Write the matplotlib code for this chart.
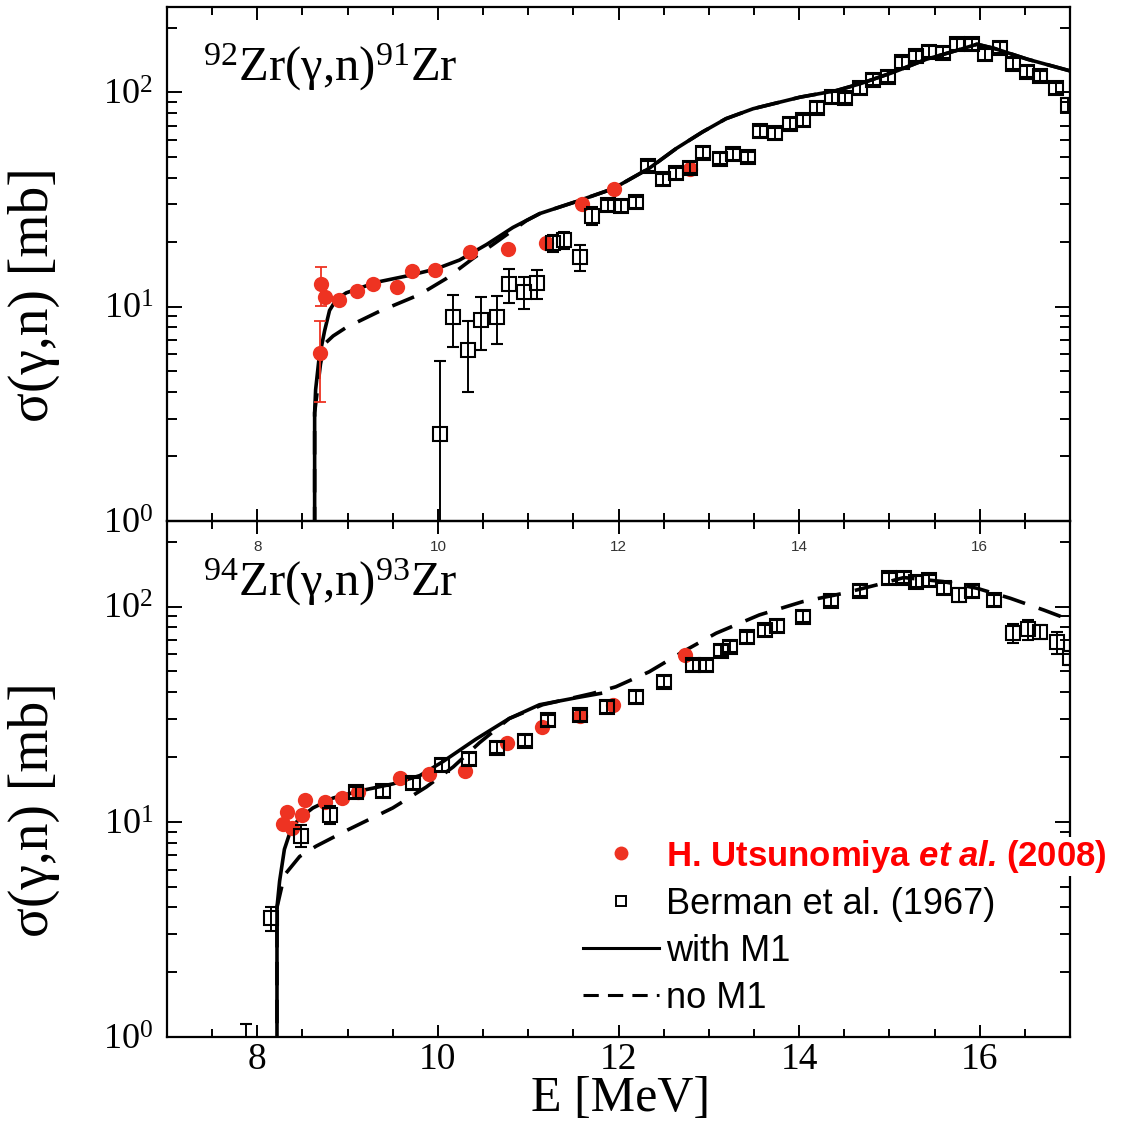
import numpy as np
import matplotlib
matplotlib.use("Agg")
import matplotlib.pyplot as plt
from matplotlib.lines import Line2D
from matplotlib.ticker import MultipleLocator, LogLocator, NullFormatter, FixedLocator

plt.rcParams['font.family'] = ['Liberation Serif', 'DejaVu Serif']
plt.rcParams['mathtext.fontset'] = 'custom'
plt.rcParams['mathtext.rm'] = 'Liberation Serif'
plt.rcParams['mathtext.it'] = 'Liberation Serif:italic'
plt.rcParams['mathtext.bf'] = 'Liberation Serif:bold'
plt.rcParams['mathtext.bfit'] = 'Liberation Sans:italic:bold'

RED = '#ee3322'

# ---------------- 92Zr(g,n)91Zr ----------------
e_utsu_92 = [8.69, 8.70, 8.75, 8.91, 9.10, 9.28, 9.55, 9.71, 9.97, 10.36, 10.78, 11.20, 11.60, 11.95, 12.79]
s_utsu_92 = [6.1, 12.7, 11.1, 10.7, 11.8, 12.7, 12.3, 14.7, 14.9, 17.9, 18.6, 19.8, 30.0, 35.4, 44.0]
d_utsu_92 = [2.5, 2.6, 0, 0, 0, 0, 0, 0, 0, 0, 0, 0, 0, 0, 0]

e_berm_92 = [10.02, 10.17, 10.33, 10.48, 10.65, 10.79, 10.95, 11.10, 11.27, 11.40, 11.57, 11.71,
             11.88, 12.03, 12.19, 12.33, 12.49, 12.64, 12.79, 12.94, 13.12, 13.27, 13.43, 13.57,
             13.73, 13.90, 14.04, 14.20, 14.36, 14.51, 14.67, 14.82, 14.98, 15.14, 15.29, 15.44,
             15.59, 15.75, 15.91, 16.06, 16.22, 16.37, 16.52, 16.67, 16.84, 16.98]
s_berm_92 = [2.55, 8.9, 6.3, 8.7, 8.96, 12.7, 11.7, 12.9, 19.8, 20.5, 17.0, 26.6,
             29.8, 29.5, 30.8, 45.4, 39.4, 41.9, 44.5, 52.3, 49.1, 51.4, 50.0, 65.8,
             64.6, 71.3, 73.9, 84.7, 94.9, 94.2, 104.7, 114.5, 118.3, 137.8, 147.9, 155.0,
             153.0, 167.4, 167.4, 150.6, 161.6, 136.2, 125.0, 119.4, 104.7, 87.4]
d_berm_92 = [3.05, 2.4, 2.3, 2.4, 2.3, 2.3, 2.0, 2.0, 1.9, 1.9, 2.3, 2.5,
             1.8, 1.8, 1.8, 2.6, 2.3, 2.4, 2.6, 3.0, 2.9, 3.0, 2.9, 3.8,
             3.8, 4.2, 4.3, 5.0, 5.5, 5.5, 6.1, 6.7, 6.9, 8.0, 8.6, 9.0,
             8.9, 9.7, 9.7, 8.8, 9.4, 7.9, 7.3, 6.9, 6.1, 6.5]

e_m1_92 = [8.635, 8.635, 8.646, 8.683, 8.745, 8.80, 8.875, 8.985, 9.32, 9.69, 9.98, 10.24,
           10.54, 10.83, 11.13, 11.53, 11.94, 12.34, 12.64, 12.93, 13.19, 13.49, 14.01,
           14.41, 14.67, 15.04, 15.41, 15.79, 15.97, 16.16, 16.53, 17.0]
s_m1_92 = [0.001, 3.2, 4.1, 5.7, 7.7, 9.6, 10.8, 11.6, 13.0, 14.0, 15.0, 16.5,
           19.5, 23.4, 27.2, 30.9, 35.5, 44.2, 54.7, 65.3, 75.3, 83.8, 94.9,
           101.8, 109.4, 123.8, 142.6, 158.8, 167.6, 160.3, 142.6, 125.9]

e_nom1_92 = [8.635, 8.635, 8.70, 8.745, 8.84, 8.985, 9.35, 9.80, 10.09, 10.39, 10.61, 10.98,
             11.13, 11.53, 11.94, 12.34, 12.64, 12.93, 13.19, 13.49, 14.01, 14.41, 14.67,
             15.04, 15.41, 15.79, 15.97, 16.16, 16.53, 17.0]
s_nom1_92 = [0.001, 3.2, 5.4, 6.7, 7.3, 8.0, 9.5, 11.4, 13.5, 16.8, 19.5, 25.2,
             27.2, 30.9, 35.5, 44.2, 54.7, 65.3, 75.3, 83.8, 94.9, 101.8, 109.4,
             123.8, 142.6, 158.8, 167.6, 160.3, 142.6, 125.9]

# ---------------- 94Zr(g,n)93Zr ----------------
e_utsu_94 = [8.288, 8.326, 8.381, 8.492, 8.528, 8.750, 8.941, 9.118, 9.576, 9.90, 10.30,
             10.76, 11.155, 11.576, 11.94, 12.74]
s_utsu_94 = [9.8, 11.1, 9.4, 10.7, 12.6, 12.4, 12.9, 13.8, 16.0, 16.6, 17.3,
             23.3, 27.5, 31.1, 35.0, 59.6]

e_berm_94 = [7.87, 8.155, 8.487, 8.80, 9.096, 9.39, 9.72, 10.04, 10.34, 10.65, 10.97, 11.22,
             11.57, 11.87, 12.19, 12.50, 12.82, 12.97, 13.13, 13.23, 13.42, 13.62, 13.75,
             14.04, 14.35, 14.67, 15.00, 15.16, 15.30, 15.44, 15.60, 15.77, 15.91, 16.16,
             16.37, 16.53, 16.67, 16.86, 17.0]
s_berm_94 = [0.5, 3.57, 8.63, 10.8, 13.7, 13.9, 15.1, 18.4, 19.6, 22.1, 23.8, 29.6,
             31.2, 34.3, 38.1, 44.8, 53.5, 53.5, 62.4, 65.2, 72.0, 77.8, 81.5,
             89.8, 106.6, 118.8, 135.6, 136.5, 130.7, 133.0, 121.7, 113.3, 118.3, 107.4,
             75.6, 78.3, 76.6, 68.2, 57.8]
d_berm_94 = [0.65, 0.46, 1.0, 1.0, 0.8, 0.8, 0.9, 1.1, 1.2, 1.3, 1.4, 1.8,
             1.9, 2.1, 2.3, 2.7, 3.2, 3.2, 3.7, 3.9, 4.3, 4.7, 4.9,
             5.4, 6.4, 7.1, 8.1, 8.2, 7.8, 8.0, 7.3, 8.5, 7.1, 6.4,
             7.5, 8.0, 5.5, 8.0, 4.5]

e_m1_94 = [8.218, 8.218, 8.247, 8.30, 8.376, 8.469, 8.616, 8.84, 9.13, 9.50, 9.80, 10.06,
           10.42, 10.79, 11.125, 11.53, 11.80]
s_m1_94 = [0.001, 4.0, 5.3, 7.45, 9.3, 10.4, 11.6, 12.9, 13.9, 15.0, 16.4, 19.1,
           24.2, 30.2, 35.0, 37.7, 39.5]

e_nom1_94 = [8.218, 8.218, 8.30, 8.469, 8.65, 8.985, 9.50, 9.87, 10.17, 10.46, 10.79, 11.16,
             11.34, 11.71, 11.97, 12.34, 12.71, 13.08, 13.56, 14.04, 14.49, 14.86, 15.16,
             15.60, 15.97, 16.34, 16.71, 17.0]
s_nom1_94 = [0.001, 4.0, 5.65, 6.9, 7.7, 9.1, 11.6, 14.5, 18.0, 23.3, 30.2, 35.0,
             36.4, 39.5, 42.4, 49.8, 61.6, 75.2, 91.5, 105.5, 115.3, 126.2, 136.5,
             130.7, 121.7, 109.3, 96.4, 86.7]

reactions = [r"$^{92}$Zr(γ,n)$^{91}$Zr", r"$^{94}$Zr(γ,n)$^{93}$Zr"]
x_major = [8, 10, 12, 14, 16]

W, H = 1124, 1136
fig = plt.figure(figsize=(W / 100, H / 100), dpi=100)
ax1 = fig.add_axes([167 / W, 1 - 521 / H, 903 / W, 514 / H])
ax2 = fig.add_axes([167 / W, 1 - 1037 / H, 903 / W, 516 / H])
ax1.set_zorder(3)
ax1.patch.set_visible(False)

DASH = (0, (6.5, 4.0))


def draw_panel(ax, e_m1, s_m1, e_no, s_no, e_b, s_b, d_b, e_u, s_u, d_u):
    ax.plot(e_no, s_no, color='k', lw=2.6, ls=DASH, zorder=2)
    ax.plot(e_m1, s_m1, color='k', lw=2.6, zorder=2.5)
    s_u = np.asarray(s_u)
    d_u = np.asarray(d_u)
    ax.errorbar(e_u, s_u, yerr=d_u, fmt='o', ms=11, color=RED, mec='none',
                ecolor=RED, elinewidth=1.3, capsize=4, capthick=1.3, zorder=3)
    s_b = np.asarray(s_b)
    d_b = np.asarray(d_b)
    lo = np.minimum(d_b, s_b * 0.999)
    ax.errorbar(e_b, s_b, yerr=[lo, d_b], fmt='s', ms=9.5, mfc='none', mec='k', mew=1.5,
                ecolor='k', elinewidth=1.4, capsize=4.5, capthick=1.4, zorder=4)
    ax.set_yscale('log')
    ax.set_xlim(7, 17)
    ax.set_ylim(1, 250)
    ax.xaxis.set_major_locator(FixedLocator(x_major))
    ax.xaxis.set_minor_locator(MultipleLocator(0.5))
    ax.yaxis.set_major_locator(LogLocator(base=10))
    ax.yaxis.set_minor_locator(LogLocator(base=10, subs=np.arange(2, 10)))
    ax.yaxis.set_minor_formatter(NullFormatter())
    for sp in ax.spines.values():
        sp.set_linewidth(1.6)
    ax.tick_params(which='both', direction='in', top=True, right=True, width=1.4)
    ax.tick_params(axis='y', which='major', length=11, labelsize=26, pad=10)
    ax.tick_params(axis='y', which='minor', length=7)
    ax.tick_params(axis='x', which='major', length=9)
    ax.tick_params(axis='x', which='minor', length=5.5)
    ax.set_ylabel("σ(γ,n) [mb]", fontsize=40)
    ax.yaxis.set_label_coords(-0.1185, 0.44)


draw_panel(ax1, e_m1_92, s_m1_92, e_nom1_92, s_nom1_92, e_berm_92, s_berm_92, d_berm_92,
           e_utsu_92, s_utsu_92, d_utsu_92)
draw_panel(ax2, e_m1_94, s_m1_94, e_nom1_94, s_nom1_94, e_berm_94, s_berm_94, d_berm_94,
           e_utsu_94, s_utsu_94, np.zeros(len(s_utsu_94)))

# upper panel: small sans labels just under its bottom axis
ax1.tick_params(axis='x', which='major', labelsize=11, pad=14, labelcolor='#333333')
for lab in ax1.get_xticklabels():
    lab.set_family('Liberation Sans')

ax2.tick_params(axis='x', which='major', labelsize=27, pad=4)
ax2.set_xlabel("E [MeV]", fontsize=36)
ax2.xaxis.set_label_coords(0.502, -0.074)

for ax, txt in zip((ax1, ax2), reactions):
    ax.text(0.04, 0.856, txt, transform=ax.transAxes, fontsize=35, va='baseline')

handles = [Line2D([], [], ls='none', marker='o', ms=10, color=RED, mec='none'),
           Line2D([], [], ls='none', marker='s', ms=7.5, mfc='none', mec='k', mew=1.4),
           Line2D([], [], color='k', lw=2.2),
           Line2D([], [], color='k', lw=2.2, ls=(0, (5, 3)))]
labels = [r"H. Utsunomiya $\mathbfit{et\ al.}\,$(2008)", "Berman et al. (1967)",
          "with M1", "no M1"]
leg = ax2.legend(handles, labels, loc='upper left', bbox_to_anchor=(583 / W, 1 - 838 / H),
                 bbox_transform=fig.transFigure, frameon=False, borderpad=0,
                 borderaxespad=0, handlelength=2.1, handletextpad=0.2,
                 labelspacing=0.33, prop={'family': 'Liberation Sans', 'size': 26})
t0 = leg.get_texts()[0]
t0.set_color('#ff0000')
t0.set_fontweight('bold')
t0.set_fontsize(25)
t0.set_bbox(dict(facecolor='white', edgecolor='none', pad=1))
leg.set_zorder(10)

fig.savefig("out.png", dpi=100)
